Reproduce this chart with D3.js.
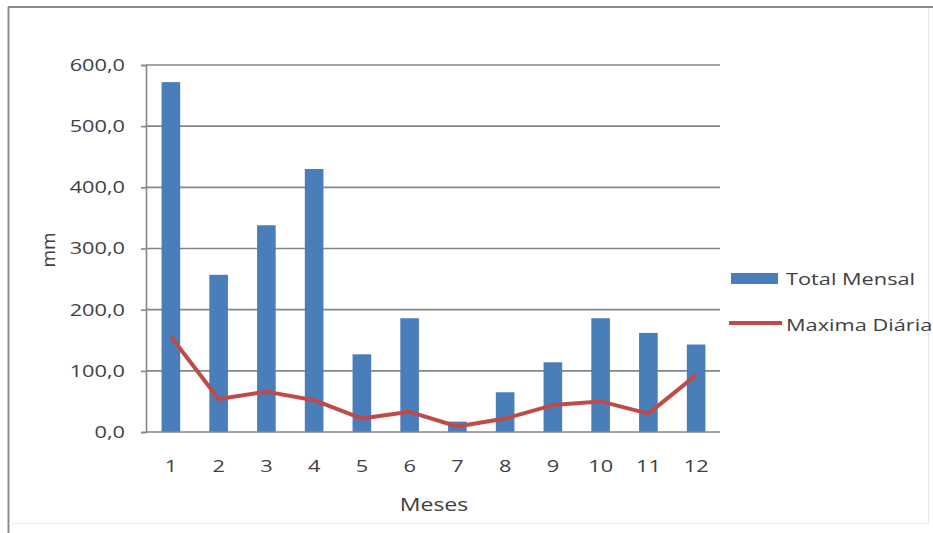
<!DOCTYPE html>
<html>
<head>
<meta charset="utf-8">
<script src="https://cdn.jsdelivr.net/npm/d3@7"></script>
<style>
  body { margin: 0; background: #fff; }
  text { font-family: "Open Sans", "Noto Sans", sans-serif; fill: #404040; }
</style>
</head>
<body>
<svg id="chart" width="933" height="533"></svg>
<script>
// chart data
const months = ["1", "2", "3", "4", "5", "6", "7", "8", "9", "10", "11", "12"];
const totalMensal = [572, 257, 338, 430, 127, 186, 17, 65, 114, 186, 162, 143];
const maximaDiaria = [156, 54, 66, 52, 22, 33, 9, 22, 44, 50, 30, 93];
const yTicks = [0, 100, 200, 300, 400, 500, 600];
const seriesNames = ["Total Mensal", "Maxima Diária"];

const svg = d3.select("#chart");
const blue = "#4a7ebb", red = "#be4b48", grid = "#868686";
const sx = 1.28; // the source picture is stretched sideways, text too
const fs = 17;

// outer frame
svg.append("rect").attr("x", 0).attr("y", 0).attr("width", 933).attr("height", 533).attr("fill", "#fff");
svg.append("line").attr("x1", 8.5).attr("x2", 8.5).attr("y1", 7).attr("y2", 533).attr("stroke", "#8a8a8a").attr("stroke-width", 2);
svg.append("line").attr("x1", 8).attr("x2", 933).attr("y1", 7).attr("y2", 7).attr("stroke", "#8a8a8a").attr("stroke-width", 2);
svg.append("line").attr("x1", 928.5).attr("x2", 928.5).attr("y1", 8).attr("y2", 523).attr("stroke", "#e6e6e6");
svg.append("line").attr("x1", 9).attr("x2", 929).attr("y1", 523.5).attr("y2", 523.5).attr("stroke", "#eeeeee");

const x = d3.scaleBand().domain(months).range([147, 720]).paddingInner(0.61).paddingOuter(0.305);
const y = d3.scaleLinear().domain([0, 600]).range([432, 65]);

// gridlines
svg.append("g")
    .selectAll("line")
    .data(yTicks.slice(1))
    .join("line")
    .attr("x1", 146).attr("x2", 720)
    .attr("y1", d => y(d)).attr("y2", d => y(d))
    .attr("stroke", grid).attr("stroke-width", 1.6);

// y axis
const yAxis = svg.append("g")
    .attr("transform", "translate(146,0)")
    .call(d3.axisLeft(y).tickValues(yTicks).tickSize(5).tickPadding(11.4)
        .tickFormat(d => d3.format(".1f")(d).replace(".", ",")));
yAxis.select(".domain").attr("stroke", grid).attr("stroke-width", 1.6);
yAxis.selectAll(".tick line").attr("stroke", grid).attr("stroke-width", 1.6);
yAxis.selectAll(".tick text").attr("font-size", fs).attr("fill", "#404040")
    .attr("font-family", "Open Sans, sans-serif")
    .attr("transform", `scale(${sx},1)`);

// bars
svg.append("g")
    .selectAll("rect")
    .data(totalMensal)
    .join("rect")
    .attr("x", (d, i) => x(months[i]))
    .attr("width", x.bandwidth())
    .attr("y", d => y(d))
    .attr("height", d => y(0) - y(d))
    .attr("fill", blue);

// x axis
const xAxis = svg.append("g")
    .attr("transform", "translate(0,432)")
    .call(d3.axisBottom(x).tickSize(0).tickPadding(28));
xAxis.select(".domain").attr("stroke", grid).attr("stroke-width", 1.6).attr("d", "M146,0H720");
xAxis.selectAll(".tick text").attr("font-size", fs).attr("fill", "#404040")
    .attr("font-family", "Open Sans, sans-serif")
    .attr("transform", `scale(${sx},1)`);

// line series
const line = d3.line()
    .x((d, i) => x(months[i]) + x.bandwidth() / 2)
    .y(d => y(d));
svg.append("path")
    .datum(maximaDiaria)
    .attr("d", line)
    .attr("fill", "none")
    .attr("stroke", red)
    .attr("stroke-width", 4)
    .attr("stroke-linejoin", "round");

// axis titles
svg.append("text").attr("transform", `translate(434,511) scale(${sx},1)`).attr("text-anchor", "middle")
    .attr("font-size", 18).text("Meses");
svg.append("text").attr("transform", "translate(55,250) rotate(-90)").attr("text-anchor", "middle")
    .attr("font-size", 19).text("mm");

// legend
const legend = svg.append("g");
legend.append("rect").attr("x", 731).attr("y", 273).attr("width", 47).attr("height", 11).attr("fill", blue);
legend.append("line").attr("x1", 729).attr("x2", 782).attr("y1", 323).attr("y2", 323)
    .attr("stroke", red).attr("stroke-width", 4);
legend.selectAll("text")
    .data(seriesNames)
    .join("text")
    .attr("transform", (d, i) => `translate(786,${285 + i * 46}) scale(${sx},1)`)
    .attr("font-size", fs)
    .text(d => d);
</script>
</body>
</html>
